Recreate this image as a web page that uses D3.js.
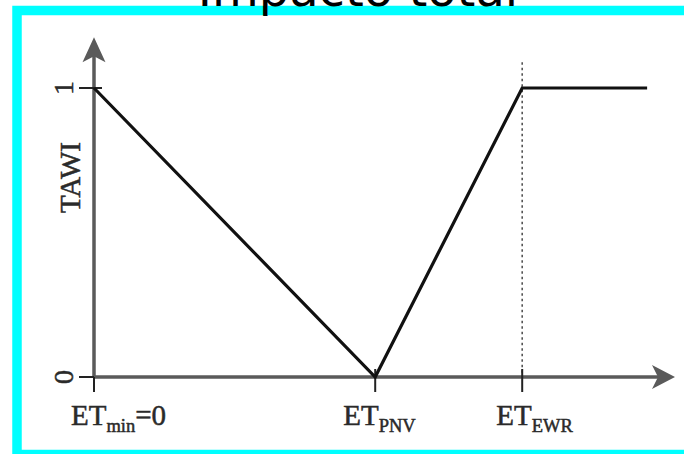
<!DOCTYPE html>
<html>
<head>
<meta charset="utf-8">
<script src="https://cdn.jsdelivr.net/npm/d3@7/dist/d3.min.js"></script>
<style>
  html, body { margin: 0; padding: 0; background: #fff; }
  svg { display: block; }
</style>
</head>
<body>
<svg id="chart" width="684" height="454"></svg>
<script>
// ---- data ----
const title = "Impacto total";
const yAxisLabel = "TAWI";
const lineX = [0, 4.84, 7.37, 9.52];      // ET values along the curve
const lineY = [1, 0, 1, 1];               // TAWI values
const xTicks = [0, 4.84, 7.37];
const xTickMain = ["ET", "ET", "ET"];
const xTickSub = ["min", "PNV", "EWR"];
const xTickTail = ["=0", "", ""];
const yTicks = [0, 1];
const yTickLabels = ["0", "1"];
const dashedAt = [7.37];
const xMax = 10;       // end of the x arrow
const yMax = 1.176;    // end of the y arrow

// ---- layout ----
const svg = d3.select("#chart");
const x = d3.scaleLinear().domain([0, xMax]).range([94, 675]);
const y = d3.scaleLinear().domain([0, 1]).range([377, 88]);
const labelDx = [-23, -32, -26];
const axisColor = "#5a5a5a";
const textColor = "#2a2a2a";
const serif = "'Liberation Serif', 'Times New Roman', serif";

// frame
svg.append("rect")
  .attr("x", 17).attr("y", 10.5)
  .attr("width", 720).attr("height", 444)
  .attr("fill", "#fff")
  .attr("stroke", "#00ffff")
  .attr("stroke-width", 9.5);

const g = svg.append("g");

// dashed reference line
g.selectAll("line.dash").data(dashedAt).join("line")
  .attr("x1", d => x(d)).attr("x2", d => x(d))
  .attr("y1", y(yMax) + 25).attr("y2", y(0))
  .attr("stroke", "#555").attr("stroke-width", 1.6)
  .attr("stroke-dasharray", "2.5,3");

// axes lines
g.append("line")
  .attr("x1", x(0)).attr("x2", x(xMax) - 12)
  .attr("y1", y(0)).attr("y2", y(0))
  .attr("stroke", axisColor).attr("stroke-width", 3.5);
g.append("line")
  .attr("x1", x(0)).attr("x2", x(0))
  .attr("y1", y(0)).attr("y2", y(yMax) + 12)
  .attr("stroke", axisColor).attr("stroke-width", 3.5);

// arrowheads
const tx = x(xMax), ty = y(0);
g.append("path")
  .attr("d", `M${tx},${ty} L${tx - 23},${ty - 12} L${tx - 17},${ty} L${tx - 23},${ty + 12} Z`)
  .attr("fill", axisColor);
const ux = x(0), uy = y(yMax);
g.append("path")
  .attr("d", `M${ux},${uy} L${ux - 11.5},${uy + 25} L${ux},${uy + 19} L${ux + 11.5},${uy + 25} Z`)
  .attr("fill", axisColor);

// x ticks
g.selectAll("line.xt").data(xTicks).join("line")
  .attr("x1", d => x(d)).attr("x2", d => x(d))
  .attr("y1", (d, i) => i === 0 ? y(0) : y(0) - 8).attr("y2", y(0) + 15)
  .attr("stroke", "#222").attr("stroke-width", 2);

// y ticks
g.selectAll("line.yt").data(yTicks).join("line")
  .attr("x1", x(0) - 15).attr("x2", (d, i) => i === 0 ? x(0) : x(0) + 8)
  .attr("y1", d => y(d)).attr("y2", d => y(d))
  .attr("stroke", "#222").attr("stroke-width", 2);

// data line
const pts = lineX.map((v, i) => [v, lineY[i]]);
g.append("path")
  .datum(pts)
  .attr("d", d3.line().x(d => x(d[0])).y(d => y(d[1])))
  .attr("fill", "none")
  .attr("stroke", "#111")
  .attr("stroke-width", 3.2)
  .attr("stroke-linejoin", "miter");

// y tick labels (rotated)
g.selectAll("text.yl").data(yTicks).join("text")
  .attr("transform", d => `translate(${x(0) - 21},${y(d)}) rotate(-90)`)
  .attr("text-anchor", "middle")
  .attr("font-family", serif)
  .attr("font-size", 28)
  .attr("fill", textColor)
  .attr("stroke", textColor).attr("stroke-width", 0.5)
  .text((d, i) => yTickLabels[i]);

// y axis title
g.append("text")
  .attr("transform", `translate(${x(0) - 14},${y(0.69)}) rotate(-90)`)
  .attr("text-anchor", "middle")
  .attr("font-family", serif)
  .attr("font-size", 29)
  .attr("fill", textColor)
  .attr("stroke", textColor).attr("stroke-width", 0.5)
  .text(yAxisLabel);

// x tick labels with subscripts
const xl = g.selectAll("text.xl").data(xTicks).join("text")
  .attr("x", (d, i) => x(d) + labelDx[i])
  .attr("y", y(0) + 48)
  .attr("font-family", serif)
  .attr("font-size", 29)
  .attr("fill", textColor)
  .attr("stroke", textColor).attr("stroke-width", 0.5);
xl.append("tspan").text((d, i) => xTickMain[i]);
xl.append("tspan").attr("font-size", 18.5).attr("dy", 7).text((d, i) => xTickSub[i]);
xl.append("tspan").attr("dy", -7).text((d, i) => xTickTail[i]);

// title
svg.append("text")
  .attr("x", 358).attr("y", 6)
  .attr("text-anchor", "middle")
  .attr("font-family", "'DejaVu Sans', sans-serif")
  .attr("font-size", 48)
  .attr("fill", "#000")
  .text(title);
</script>
</body>
</html>
